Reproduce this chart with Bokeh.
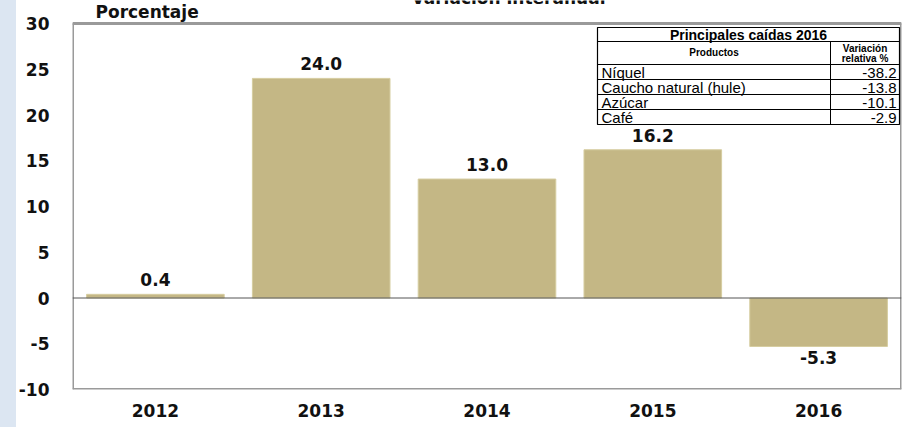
import re
from bokeh.plotting import figure
from bokeh.models import Range1d, FixedTicker
from bokeh.embed import file_html
from bokeh.resources import INLINE
from bokeh.core.properties import value

# ---------------- data ----------------
years = ["2012", "2013", "2014", "2015", "2016"]
variacion = [0.4, 24.0, 13.0, 16.2, -5.3]
y_ticks = [-10, -5, 0, 5, 10, 15, 20, 25, 30]

tabla_titulo = "Principales caídas 2016"
tabla_col1 = "Productos"
tabla_col2 = ["Variación", "relativa %"]
productos = ["Níquel", "Caucho natural (hule)", "Azúcar", "Café"]
caidas = [-38.2, -13.8, -10.1, -2.9]

titulo = "Variación interanual"
unidad = "Porcentaje"

# ---------------- layout helpers ----------------
W, H = 904, 427
STRIP = 16
BL, BR, BB = 72, 3, 38          # frame borders (frame top at page y = 0)
PLOT_TOP = 23                   # page y of value 30
FW = W - BL - BR
Y0, Y1 = -10, 30
PX_PER_UNIT = (H - BB - PLOT_TOP) / (Y1 - Y0)
YTOP = Y1 + PLOT_TOP / PX_PER_UNIT
N = len(years)

def X(px):  # page x pixel -> data x
    return (px - BL) / FW * N

def Y(py):  # page y pixel -> data y
    return Y1 - (py - PLOT_TOP) / PX_PER_UNIT

BAR = "#C4B785"
FONT = "DejaVu Sans"
TFONT = "Liberation Sans"
INK = "#111111"

p = figure(width=W, height=H, output_backend="svg", toolbar_location=None,
           x_range=Range1d(0, N), y_range=Range1d(Y0, YTOP),
           min_border_left=BL, min_border_right=BR, min_border_top=0,
           min_border_bottom=BB)
p.background_fill_color = "white"
p.border_fill_color = None
p.outline_line_color = None
p.styles = {"background": f"linear-gradient(to right, #dce6f2 0px, #dce6f2 {STRIP}px, #ffffff {STRIP}px)"}
p.xgrid.visible = False
p.ygrid.visible = False

# plot-area border (gray)
OUT = "#9a9a9a"
p.segment(x0=[0, 0, N, 0], x1=[N, N, N, 0], y0=[Y1, Y0, Y0, Y0], y1=[Y1, Y0, Y1, Y1],
          line_color=OUT, line_width=3)
p.segment(x0=[0], x1=[N], y0=[Y1], y1=[Y1], line_color=OUT, line_width=1.5)

xs = [i + 0.5 for i in range(N)]
p.vbar(x=xs, top=variacion, bottom=0, width=0.83, fill_color=BAR,
       line_color="#d6cda0", line_width=1)

# zero line
p.segment(x0=[0], x1=[N], y0=[0], y1=[0], line_color="#555555", line_width=1)

# value labels
pos_x = [x for x, v in zip(xs, variacion) if v >= 0]
pos_v = [v for v in variacion if v >= 0]
neg_x = [x for x, v in zip(xs, variacion) if v < 0]
neg_v = [v for v in variacion if v < 0]
p.text(x=pos_x, y=pos_v, text=[f"{v:.1f}" for v in pos_v], text_align="center",
       text_baseline="bottom", y_offset=-8, text_font=value(FONT),
       text_font_style="bold", text_font_size="17px", text_color=INK)
p.text(x=neg_x, y=neg_v, text=[f"{v:.1f}" for v in neg_v], text_align="center",
       text_baseline="top", y_offset=5, text_font=value(FONT),
       text_font_style="bold", text_font_size="17px", text_color=INK)

# axes
p.xaxis.ticker = FixedTicker(ticks=xs)
p.xaxis.major_label_overrides = {x: y for x, y in zip(xs, years)}
p.yaxis.ticker = FixedTicker(ticks=y_ticks)
p.yaxis.major_label_overrides = {t: str(t) for t in y_ticks}
for ax in (p.xaxis[0], p.yaxis[0]):
    ax.axis_line_color = None
    ax.major_tick_line_color = None
    ax.minor_tick_line_color = None
    ax.major_tick_out = 0
    ax.major_tick_in = 0
    ax.minor_tick_out = 0
    ax.major_label_text_font = FONT
    ax.major_label_text_font_style = "bold"
    ax.major_label_text_font_size = "17px"
    ax.major_label_text_color = INK
p.yaxis.major_label_standoff = 23
p.xaxis.major_label_standoff = 14

# title & unit (drawn in the top strip of the frame)
p.text(x=[X(508)], y=[Y(7)], text=[titulo], text_align="center",
       text_baseline="bottom", text_font=value(FONT), text_font_style="bold",
       text_font_size="17px", text_color=INK)
p.text(x=[X(95)], y=[Y(21)], text=[unidad], text_align="left",
       text_baseline="bottom", text_font=value(FONT), text_font_style="bold",
       text_font_size="17px", text_color=INK)

# ---------------- table ----------------
TL, TM, TR = 597, 830, 899
TT, TTB, THB, RH = 27, 41, 64, 15
nrows = len(productos)
TBOT = THB + RH * nrows

p.quad(left=[X(TL)], right=[X(TR)], top=[Y(TT)], bottom=[Y(TBOT)],
       fill_color="white", line_color="black", line_width=1.2)
hl_y = [TTB, THB] + [THB + RH * (i + 1) for i in range(nrows - 1)]
p.segment(x0=[X(TL)] * len(hl_y), x1=[X(TR)] * len(hl_y),
          y0=[Y(v) for v in hl_y], y1=[Y(v) for v in hl_y],
          line_color="black", line_width=1)
p.segment(x0=[X(TM)], x1=[X(TM)], y0=[Y(TTB)], y1=[Y(TBOT)],
          line_color="black", line_width=1)

p.text(x=[X((TL + TR) / 2)], y=[Y((TT + TTB) / 2 + 0.5)], text=[tabla_titulo],
       text_align="center", text_baseline="middle", text_font=value(TFONT),
       text_font_style="bold", text_font_size="14px", text_color="black")
p.text(x=[X((TL + TM) / 2)], y=[Y(52)], text=[tabla_col1],
       text_align="center", text_baseline="middle", text_font=value(TFONT),
       text_font_style="bold", text_font_size="10px", text_color="black")
p.text(x=[X((TM + TR) / 2)] * 2, y=[Y(47.5), Y(58)], text=tabla_col2,
       text_align="center", text_baseline="middle", text_font=value(TFONT),
       text_font_style="bold", text_font_size="10px", text_color="black")
row_mid = [Y(THB + RH * i + RH / 2 + 0.5) for i in range(nrows)]
p.text(x=[X(TL + 4)] * nrows, y=row_mid, text=productos,
       text_align="left", text_baseline="middle", text_font=value(TFONT),
       text_font_size="15px", text_color="black")
p.text(x=[X(TR - 3)] * nrows, y=row_mid, text=[f"{v:.1f}" for v in caidas],
       text_align="right", text_baseline="middle", text_font=value(TFONT),
       text_font_size="15px", text_color="black")

html = file_html(p, INLINE)
html = re.sub(r"<body([^>]*)>",
              lambda m: f"<body{m.group(1)} style=\"margin:0;background:linear-gradient(to right, #dce6f2 0px, #dce6f2 {STRIP}px, #ffffff {STRIP}px)\">",
              html, count=1)
open("out.html", "w").write(html)
